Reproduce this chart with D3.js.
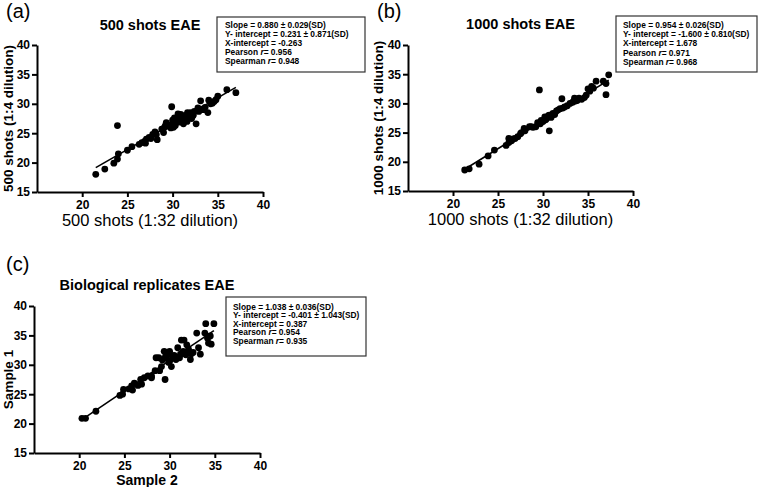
<!DOCTYPE html>
<html>
<head>
<meta charset="utf-8">
<script src="https://cdn.jsdelivr.net/npm/d3@7"></script>
<style>
  body { margin: 0; background: #fff; }
  svg { display: block; font-family: "Liberation Sans", Arial, sans-serif; }
</style>
</head>
<body>
<svg id="chart" width="762" height="487"></svg>
<script>
// ---------- DATA ----------
const yTicks = [15, 20, 25, 30, 35, 40];
const xTicks = [20, 25, 30, 35, 40];

// Panel (a): 500 shots
const aX = [21.5,22.5,23.5,23.9,24.0,23.9,25.0,25.5,26.3,26.9,27.1,27.4,27.6,27.8,28.05,28.3,28.2,28.8,29.0,29.1,29.3,29.5,29.6,29.9,29.8,30.0,30.0,30.2,30.1,30.3,30.4,30.5,30.6,30.7,30.8,30.9,31.0,31.1,31.2,31.3,31.5,31.6,31.65,31.8,32.0,32.1,32.2,32.4,32.6,32.8,32.9,33.1,33.2,33.4,33.6,33.9,34.0,34.2,34.4,34.6,34.8,35.0,36.0,37.0,27.0,26.6,29.2,30.7,31.9,32.3];
const aY = [18.0,18.9,19.9,20.6,21.5,26.3,22.1,22.7,23.1,23.6,24.0,24.3,24.1,24.8,25.2,23.9,24.8,25.7,25.1,26.0,26.8,26.4,26.2,29.5,25.9,26.5,27.2,27.6,26.0,26.3,26.8,27.5,28.3,27.3,26.9,28.2,27.7,27.0,26.6,28.0,27.6,27.0,28.5,28.2,28.5,27.5,27.9,28.7,26.6,29.3,28.7,30.5,29.1,29.0,29.4,28.5,30.6,30.0,30.1,30.4,30.7,31.3,32.4,31.9,23.3,23.4,26.3,27.9,27.8,28.1];
const aFit = [0.880, 0.231];
const aStats = ["Slope = 0.880 \u00b1 0.029(SD)", "Y- intercept = 0.231 \u00b1 0.871(SD)", "X-intercept = -0.263", "Pearson |r|= 0.956", "Spearman |r|= 0.948"];

// Panel (b): 1000 shots
const bX = [21.3,21.8,22.9,23.9,24.6,25.9,26.2,26.2,26.5,26.7,27.2,27.5,27.6,27.9,28.0,28.5,28.9,29.2,29.4,29.6,29.7,29.8,30.0,30.2,30.3,30.4,30.6,30.7,30.7,30.9,31.1,31.3,31.5,31.7,31.9,32.1,32.2,32.4,32.7,33.0,33.3,33.5,33.8,34.0,34.3,34.6,34.8,35.0,35.2,35.4,35.6,35.9,36.7,37.0,37.0,37.3,28.7,26.9,31.0,33.6];
const bY = [18.6,18.8,19.6,21.0,22.0,22.8,23.3,24.0,23.6,23.9,24.3,24.8,25.0,25.7,25.3,26.0,25.9,26.0,26.7,32.3,26.5,27.1,26.9,27.7,27.2,27.4,27.9,25.3,28.0,27.6,28.3,28.1,28.7,28.9,29.1,30.8,29.2,29.4,29.6,30.0,30.2,30.9,30.5,30.9,30.7,31.0,31.4,32.5,32.1,32.9,32.6,33.8,33.8,33.4,31.5,34.9,26.0,24.0,28.0,30.4];
const bFit = [0.954, -1.600];
const bStats = ["Slope = 0.954 \u00b1 0.026(SD)", "Y- intercept = -1.600 \u00b1 0.810(SD)", "X-intercept = 1.678", "Pearson |r|= 0.971", "Spearman |r|= 0.968"];

// Panel (c): biological replicates
const cX = [20.3,20.7,21.85,24.5,24.8,24.9,25.5,25.9,25.8,26.1,26.5,26.8,26.9,27.2,27.6,28.0,28.0,28.4,28.5,28.8,28.9,29.1,29.2,29.5,29.4,29.5,29.6,29.8,29.9,30.0,30.0,30.2,30.3,30.4,30.5,30.7,30.9,31.1,31.2,31.3,31.6,31.5,31.8,31.9,32.1,32.3,32.4,32.6,33.0,33.2,33.4,33.9,34.0,34.3,34.5,34.6,34.9,34.2];
const cY = [20.9,20.9,22.1,24.8,25.0,25.8,25.9,25.7,26.4,26.9,26.5,27.5,26.7,27.8,28.1,28.1,27.8,29.0,31.2,31.2,29.0,29.7,30.8,27.5,32.3,31.2,31.9,31.7,30.4,32.3,30.6,29.7,31.5,31.2,31.6,30.9,32.9,31.2,31.8,34.2,34.2,32.3,31.7,33.4,32.6,30.9,31.9,32.1,35.4,32.9,31.8,35.4,37.0,33.7,34.9,33.5,37.0,34.5];
const cFit = [1.038, -0.401];
const cStats = ["Slope = 1.038 \u00b1 0.036(SD)", "Y- intercept = -0.401 \u00b1 1.043(SD)", "X-intercept = 0.387", "Pearson |r|= 0.954", "Spearman |r|= 0.935"];

// ---------- LAYOUT ----------
const panels = [
  { tag: "(a)", tagX: 6, tagY: 18, title: "500 shots EAE", titleY: 30,
    xs: aX, ys: aY, fit: aFit, stats: aStats,
    xr: [37, 263], yr: [192, 45], xlab: "500 shots (1:32 dilution)", xlabBold: false, xlabY: 226,
    ylab: "500 shots (1:4 dilution)", ylabX: 12.5,
    box: [217, 17, 148, 55], boxTx: 225, boxTy: 27.5, boxDy: 9.2 },
  { tag: "(b)", tagX: 377, tagY: 18, title: "1000 shots EAE", titleY: 29,
    xs: bX, ys: bY, fit: bFit, stats: bStats,
    xr: [408, 633], yr: [191, 45], xlab: "1000 shots (1:32 dilution)", xlabBold: false, xlabY: 225,
    ylab: "1000 shots (1:4 dilution)", ylabX: 382.5,
    box: [616, 16, 141, 56], boxTx: 623, boxTy: 28, boxDy: 9.2 },
  { tag: "(c)", tagX: 6, tagY: 271, title: "Biological replicates EAE", titleY: 290,
    xs: cX, ys: cY, fit: cFit, stats: cStats,
    xr: [34, 260], yr: [453, 306], xlab: "Sample 2", xlabBold: true, xlabY: 485,
    ylab: "Sample 1", ylabX: 12.5,
    box: [226, 297, 140, 59], boxTx: 233, boxTy: 309.5, boxDy: 8.6 }
];

const svg = d3.select("#chart");

panels.forEach(p => {
  const x = d3.scaleLinear().domain([15, 40]).range(p.xr);
  const y = d3.scaleLinear().domain([15, 40]).range(p.yr);
  const g = svg.append("g");

  // tag
  g.append("text").attr("x", p.tagX).attr("y", p.tagY)
    .attr("font-size", 20).attr("fill", "#000").text(p.tag);

  // title
  g.append("text").attr("x", (p.xr[0] + p.xr[1]) / 2).attr("y", p.titleY)
    .attr("text-anchor", "middle").attr("font-size", 14.5).attr("font-weight", "bold")
    .text(p.title);

  // axes
  const yAxis = d3.axisLeft(y).tickValues(yTicks).tickSize(5).tickSizeOuter(0).tickPadding(2);
  const xAxis = d3.axisBottom(x).tickValues(xTicks).tickSize(5).tickSizeOuter(0).tickPadding(3);
  const gy = g.append("g").attr("transform", `translate(${p.xr[0]},0)`).call(yAxis);
  const gx = g.append("g").attr("transform", `translate(0,${p.yr[0]})`).call(xAxis);
  [gx, gy].forEach(ax => {
    ax.select(".domain").attr("stroke", "#000").attr("stroke-width", 2);
    ax.selectAll(".tick line").attr("stroke", "#000").attr("stroke-width", 2);
    ax.selectAll(".tick text").attr("font-size", 12).attr("font-weight", "bold")
      .attr("fill", "#000").attr("font-family", '"Liberation Sans", Arial, sans-serif');
  });

  // x label
  g.append("text").attr("x", (p.xr[0] + p.xr[1]) / 2).attr("y", p.xlabY)
    .attr("text-anchor", "middle")
    .attr("font-size", p.xlabBold ? 14 : 16.5)
    .attr("font-weight", p.xlabBold ? "bold" : "normal")
    .text(p.xlab);

  // y label
  const yc = (p.yr[0] + p.yr[1]) / 2;
  g.append("text").attr("transform", `translate(${p.ylabX},${yc}) rotate(-90)`)
    .attr("text-anchor", "middle").attr("font-size", 13.5).attr("font-weight", "bold")
    .text(p.ylab);

  // points
  const pts = p.xs.map((v, i) => [v, p.ys[i]]);
  g.append("g").selectAll("circle").data(pts).join("circle")
    .attr("cx", d => x(d[0])).attr("cy", d => y(d[1])).attr("r", 3.4).attr("fill", "#000");

  // regression line
  const x0 = d3.min(p.xs), x1 = d3.max(p.xs);
  const line = d3.line().x(d => x(d)).y(d => y(p.fit[0] * d + p.fit[1]));
  g.append("path").attr("d", line([x0, x1])).attr("stroke", "#000")
    .attr("stroke-width", 1.6).attr("fill", "none");

  // stats box
  const [bx, by, bw, bh] = p.box;
  g.append("rect").attr("x", bx).attr("y", by).attr("width", bw).attr("height", bh)
    .attr("fill", "#fff").attr("stroke", "#333").attr("stroke-width", 1.2);
  p.stats.forEach((s, i) => {
    const t = g.append("text").attr("x", p.boxTx).attr("y", p.boxTy + i * p.boxDy)
      .attr("font-size", 8.4).attr("font-weight", "bold").attr("fill", "#000");
    const parts = s.split("|");
    if (parts.length === 3) {
      t.append("tspan").text(parts[0]);
      t.append("tspan").attr("font-style", "italic").text(parts[1]);
      t.append("tspan").text(parts[2]);
    } else {
      t.text(s);
    }
  });
});
</script>
</body>
</html>
